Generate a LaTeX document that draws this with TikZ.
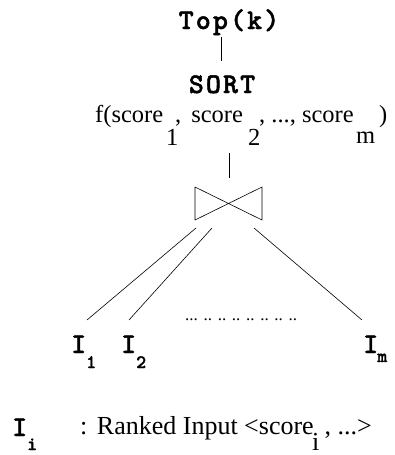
\documentclass[tikz,border=0pt]{standalone}
\usepackage{fontspec}
\setmainfont{Liberation Serif}
% heavy slab-serif typewriter face, spaced out to a Courier-like pitch
\newfontfamily\courbf{lmmonolt10-bold.otf}[LetterSpace=7.5, FakeBold=1.6]
\begin{document}
\begin{tikzpicture}[x=1pt,y=-1pt,
  optext/.style={font=\fontsize{28.5}{30}\selectfont\courbf, inner sep=0pt, anchor=base},
  opsub/.style={font=\fontsize{19}{20}\selectfont\courbf, inner sep=0pt, anchor=base west},
  serif/.style={font=\fontsize{26}{28}\selectfont, inner sep=0pt, anchor=base west},
  fserif/.style={font=\fontsize{24.5}{26}\selectfont, inner sep=0pt, anchor=base west},
  edge/.style={line width=0.6pt}]
\useasboundingbox (0,0) rectangle (394,455);

% operator chain: Top(k) above SORT
\node[optext] (top) at (229,29) {Top(k)};
\node[optext] (sort) at (222,93) {SORT};
\coordinate (topfoot) at (221,37);
\coordinate (sorthead) at (221,61);
\draw[edge] (topfoot) -- (sorthead);

% scoring function f(score_1, score_2, ..., score_m)
\node[fserif] (f0) at (95,122) {f(score};
\node[fserif] (f1) at (166,145) {1};
\node[fserif] (f2) at (175,122) {,\hspace{10pt}score};
\node[fserif] (f3) at (248,145) {2};
\node[fserif] (f4) at (259,122) {, ..., score};
\node[fserif] (f5) at (356,143) {m};
\node[fserif] (f6) at (379,122) {)};

% rank join operator
\coordinate (fbelow) at (229,153);
\coordinate (jointop) at (229,178);
\draw[edge] (fbelow) -- (jointop);
\coordinate (jnw) at (195,187);
\coordinate (jsw) at (195,220);
\coordinate (jne) at (262,187);
\coordinate (jse) at (262,220);
\draw[edge] (jnw) -- (jse) -- (jne) -- (jsw) -- cycle;

% ranked inputs
\node[optext, anchor=base west] (i1) at (71,353) {I};
\node[opsub] (i1s) at (86,368) {1};
\node[optext, anchor=base west] (i2) at (121,353) {I};
\node[opsub] (i2s) at (136,368) {2};
\node[optext, anchor=base west] (im) at (363,353) {I};
\node[opsub] (ims) at (377,362) {m};
\node[font=\fontsize{17}{18}\selectfont, inner sep=0pt, anchor=base west] (dots) at (185,320) {... .. .. .. .. .. .. ..};

\coordinate (a1) at (196,228);
\coordinate (b1) at (87,320);
\coordinate (a2) at (212,228);
\coordinate (b2) at (129,320);
\coordinate (a3) at (254,228);
\coordinate (b3) at (362,320);
\draw[edge] (a1) -- (b1);
\draw[edge] (a2) -- (b2);
\draw[edge] (a3) -- (b3);

% legend
\node[optext, anchor=base west] (leg) at (12,436) {I};
\node[opsub] (legs) at (27,450) {i};
\node[serif] (leg1) at (80,434) {:\hspace{9.5pt}Ranked Input <score};
\node[serif] (leg2) at (312,450) {i};
\node[serif, anchor=base east] (leg3) at (372,434) {, ...>};
\end{tikzpicture}
\end{document}
